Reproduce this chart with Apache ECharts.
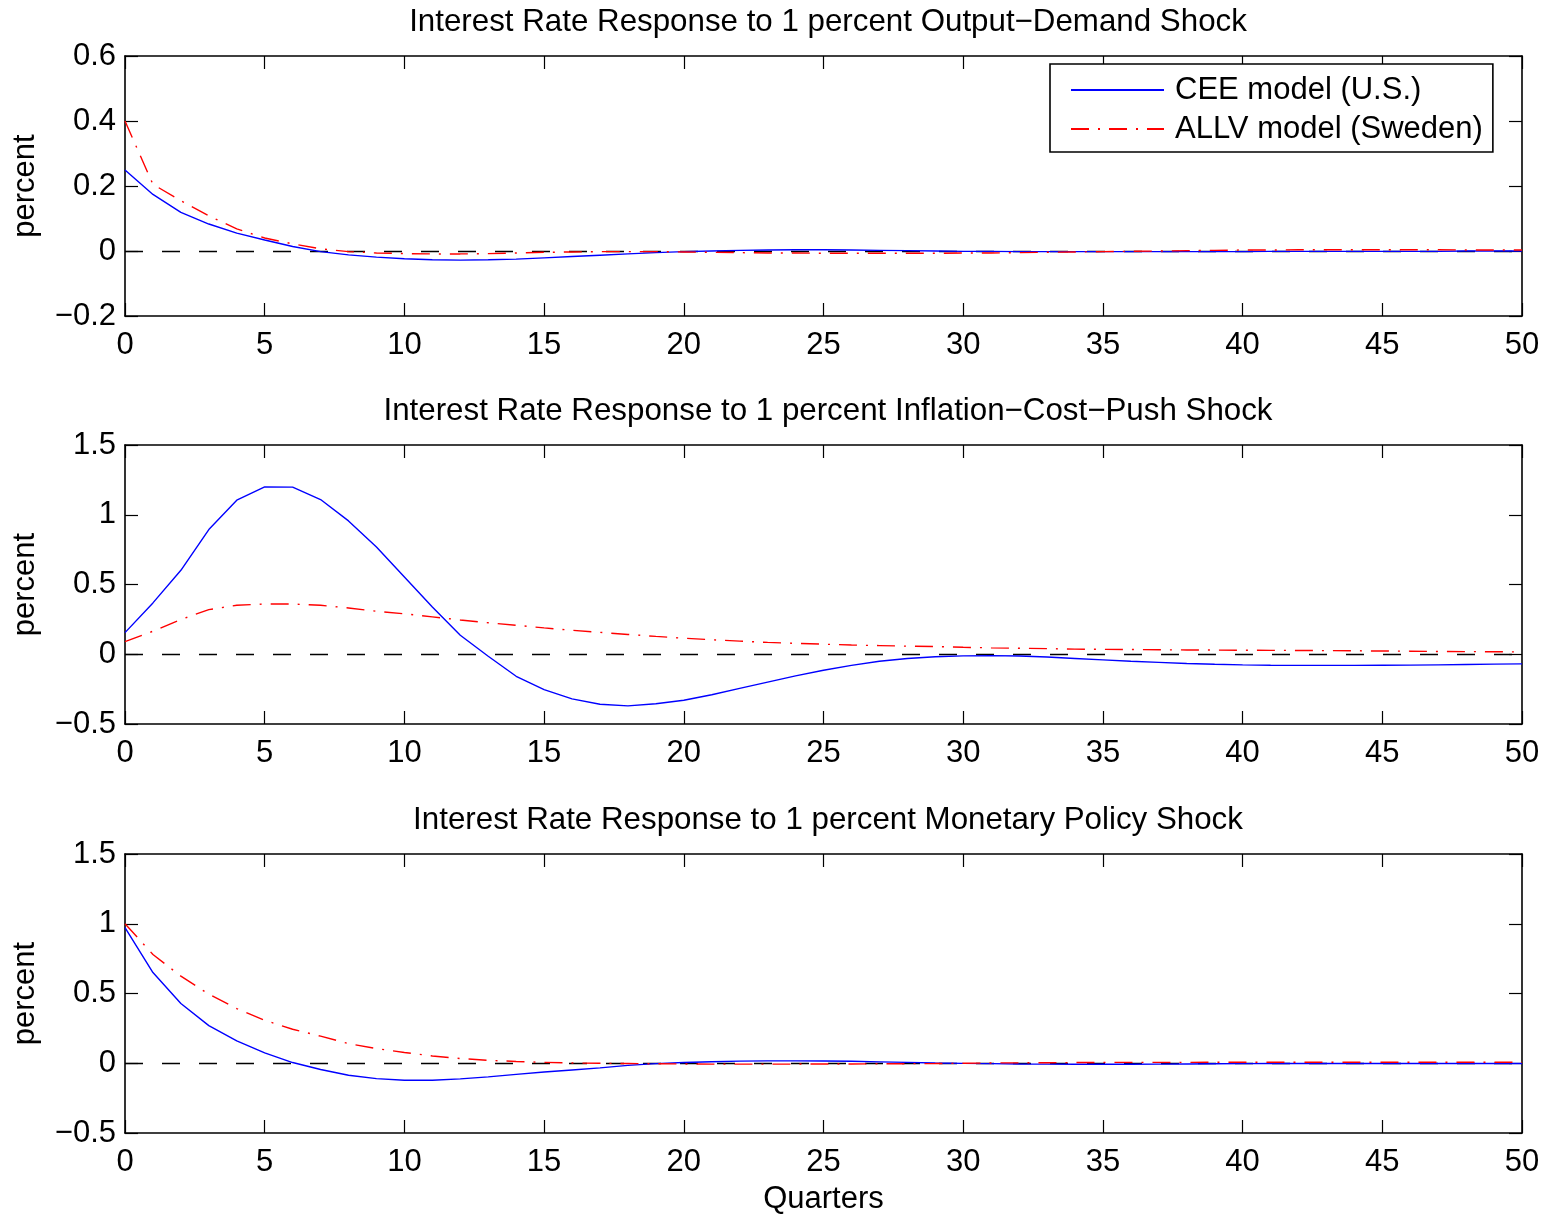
<!DOCTYPE html>
<html>
<head>
<meta charset="utf-8">
<title>Interest Rate Responses</title>
<script src="https://cdn.jsdelivr.net/npm/echarts@6/dist/echarts.min.js"></script>
<style>
  html, body { margin: 0; padding: 0; background: #fff; }
  #chart { width: 1549px; height: 1217px; }
</style>
</head>
<body>
<div id="chart"></div>
<script>
// Quarters after the shock
const quarters = [0,1,2,3,4,5,6,7,8,9,10,11,12,13,14,15,16,17,18,19,20,21,22,23,24,25,
  26,27,28,29,30,31,32,33,34,35,36,37,38,39,40,41,42,43,44,45,46,47,48,49,50];

const seriesNames = ['CEE model (U.S.)', 'ALLV model (Sweden)'];

const panelTitles = [
  'Interest Rate Response to 1 percent Output\u2212Demand Shock',
  'Interest Rate Response to 1 percent Inflation\u2212Cost\u2212Push Shock',
  'Interest Rate Response to 1 percent Monetary Policy Shock'
];

// Output-demand shock
const ceeDemand = [0.249,0.174,0.119,0.083,0.055,0.034,0.014,-0.002,-0.012,-0.019,-0.024,-0.027,-0.028,-0.027,-0.025,-0.021,
  -0.017,-0.013,-0.009,-0.005,-0.002,0.000,0.002,0.003,0.004,0.004,0.003,0.002,0.001,0.000,-0.001,-0.001,-0.002,-0.002,
  -0.002,-0.002,-0.002,-0.002,-0.002,-0.002,-0.002,-0.001,-0.001,-0.001,-0.001,-0.001,-0.001,-0.001,0.000,0.000,0.000];
const allvDemand = [0.400,0.205,0.155,0.108,0.068,0.040,0.022,0.007,-0.002,-0.006,-0.008,-0.009,-0.009,-0.008,-0.006,-0.004,
  -0.003,-0.002,-0.002,-0.002,-0.003,-0.004,-0.005,-0.006,-0.006,-0.007,-0.007,-0.007,-0.007,-0.007,-0.006,-0.006,-0.005,
  -0.004,-0.003,-0.002,-0.001,0.000,0.001,0.002,0.003,0.003,0.004,0.004,0.004,0.004,0.004,0.004,0.003,0.003,0.003];

// Inflation cost-push shock
const ceeCostPush = [0.155,0.368,0.602,0.894,1.104,1.199,1.198,1.109,0.956,0.769,0.554,0.339,0.136,-0.014,-0.158,-0.253,
  -0.320,-0.358,-0.370,-0.355,-0.330,-0.290,-0.245,-0.200,-0.155,-0.115,-0.080,-0.050,-0.030,-0.018,-0.012,-0.010,-0.013,
  -0.020,-0.030,-0.040,-0.050,-0.058,-0.066,-0.072,-0.076,-0.079,-0.080,-0.080,-0.080,-0.079,-0.078,-0.076,-0.074,-0.071,-0.069];
const allvCostPush = [0.090,0.165,0.249,0.320,0.351,0.360,0.360,0.351,0.332,0.308,0.290,0.268,0.246,0.226,0.208,0.189,
  0.172,0.157,0.142,0.128,0.115,0.104,0.094,0.085,0.078,0.072,0.066,0.062,0.058,0.055,0.050,0.046,0.043,0.040,0.037,0.035,
  0.034,0.032,0.031,0.030,0.029,0.028,0.027,0.026,0.025,0.023,0.022,0.020,0.019,0.018,0.017];

// Monetary policy shock
const ceeMonetary = [0.973,0.650,0.428,0.270,0.160,0.074,0.005,-0.045,-0.086,-0.110,-0.122,-0.122,-0.112,-0.098,-0.080,-0.063,
  -0.048,-0.033,-0.015,-0.003,0.005,0.011,0.015,0.017,0.017,0.016,0.014,0.010,0.006,0.002,-0.001,-0.003,-0.005,-0.006,
  -0.007,-0.007,-0.007,-0.006,-0.005,-0.004,-0.003,-0.002,-0.002,-0.002,-0.002,-0.002,-0.002,-0.002,-0.002,-0.002,-0.002];
const allvMonetary = [1.000,0.780,0.624,0.495,0.392,0.308,0.244,0.194,0.141,0.105,0.077,0.052,0.034,0.021,0.013,0.006,
  0.002,0.000,-0.002,-0.004,-0.005,-0.006,-0.006,-0.006,-0.006,-0.005,-0.005,-0.004,-0.003,-0.002,0.000,0.002,0.003,0.004,
  0.005,0.006,0.006,0.006,0.006,0.007,0.007,0.007,0.007,0.007,0.007,0.007,0.007,0.007,0.007,0.007,0.007];

// Y-axis ranges per panel
const yMin = [-0.2, -0.5, -0.5];
const yMax = [0.6, 1.5, 1.5];
const yStep = [0.2, 0.5, 0.5];
const xTicks = { min: 0, max: 50, step: 5 };

const panels = [
  [ceeDemand, allvDemand],
  [ceeCostPush, allvCostPush],
  [ceeMonetary, allvMonetary]
];

const FONT = '"Liberation Sans", Arial, Helvetica, sans-serif';
const FS = 31;
const gridBoxes = [
  { left: 125, top: 56, width: 1397, height: 260 },
  { left: 125, top: 445, width: 1397, height: 279 },
  { left: 125, top: 854, width: 1397, height: 279 }
];
const titleY = [2, 391, 800];

const frameLine = { show: true, onZero: false, lineStyle: { color: '#000', width: 1.6 } };
const innerTick = { show: true, inside: true, length: 13, lineStyle: { color: '#000', width: 1.2 } };

function fmtTick(v) {
  const r = Math.round(v * 10) / 10;
  return String(r).replace('-', '\u2212');
}

const grid = [], xAxis = [], yAxis = [], series = [], title = [];

panels.forEach((pair, p) => {
  grid.push(Object.assign({ containLabel: false }, gridBoxes[p]));

  title.push({
    text: panelTitles[p],
    left: 823, top: titleY[p], textAlign: 'center',
    textStyle: { fontFamily: FONT, fontSize: 31.3, fontWeight: 'normal', color: '#000' }
  });

  const axisX = {
    type: 'value', gridIndex: p, min: xTicks.min, max: xTicks.max, interval: xTicks.step,
    axisLine: frameLine, axisTick: innerTick, splitLine: { show: false }
  };
  xAxis.push(Object.assign({}, axisX, {
    position: 'bottom',
    axisLabel: { show: true, margin: 14, color: '#000', fontFamily: FONT, fontSize: FS },
    name: p === 2 ? 'Quarters' : '',
    nameLocation: 'middle', nameGap: 51,
    nameTextStyle: { color: '#000', fontFamily: FONT, fontSize: FS }
  }));
  xAxis.push(Object.assign({}, axisX, { position: 'top', axisLabel: { show: false } }));

  const axisY = {
    type: 'value', gridIndex: p, min: yMin[p], max: yMax[p], interval: yStep[p],
    axisLine: frameLine, axisTick: innerTick, splitLine: { show: false }
  };
  yAxis.push(Object.assign({}, axisY, {
    position: 'left',
    axisLabel: { show: true, margin: 9, color: '#000', fontFamily: FONT, fontSize: FS, formatter: fmtTick },
    name: 'percent', nameLocation: 'middle', nameRotate: 90, nameGap: 84,
    nameTextStyle: { color: '#000', fontFamily: FONT, fontSize: FS }
  }));
  yAxis.push(Object.assign({}, axisY, { position: 'right', axisLabel: { show: false } }));

  series.push({
    name: seriesNames[0], type: 'line', xAxisIndex: 2 * p, yAxisIndex: 2 * p,
    data: quarters.map((q, i) => [q, pair[0][i]]),
    symbol: 'none', smooth: false, silent: true, z: 3,
    lineStyle: { color: '#0000ff', width: 1.4 },
    itemStyle: { color: '#0000ff' },
    markLine: {
      silent: true, symbol: ['none', 'none'], label: { show: false }, z: 1,
      lineStyle: { color: '#000', type: [18, 19], width: 1.3 },
      data: [{ yAxis: 0 }]
    }
  });
  series.push({
    name: seriesNames[1], type: 'line', xAxisIndex: 2 * p, yAxisIndex: 2 * p,
    data: quarters.map((q, i) => [q, pair[1][i]]),
    symbol: 'none', smooth: false, silent: true, z: 4,
    lineStyle: { color: '#ff0000', width: 1.4, type: [18, 9, 2, 9] },
    itemStyle: { color: '#ff0000' }
  });
});

const chart = echarts.init(document.getElementById('chart'), null, { renderer: 'canvas' });
chart.setOption({
  backgroundColor: '#fff',
  animation: false,
  title: title,
  legend: {
    data: seriesNames,
    orient: 'vertical',
    left: 1050, top: 64,
    padding: [9, 10, 6, 20],
    itemWidth: 93, itemHeight: 14, itemGap: 5,
    borderColor: '#000', borderWidth: 1.6,
    backgroundColor: '#fff',
    itemStyle: { opacity: 0, color: 'rgba(0,0,0,0)', borderWidth: 0 },
    textStyle: { fontFamily: FONT, fontSize: FS, color: '#000', lineHeight: 34, padding: [0, 0, 0, 6] }
  },
  grid: grid,
  xAxis: xAxis,
  yAxis: yAxis,
  series: series
});
</script>
</body>
</html>
